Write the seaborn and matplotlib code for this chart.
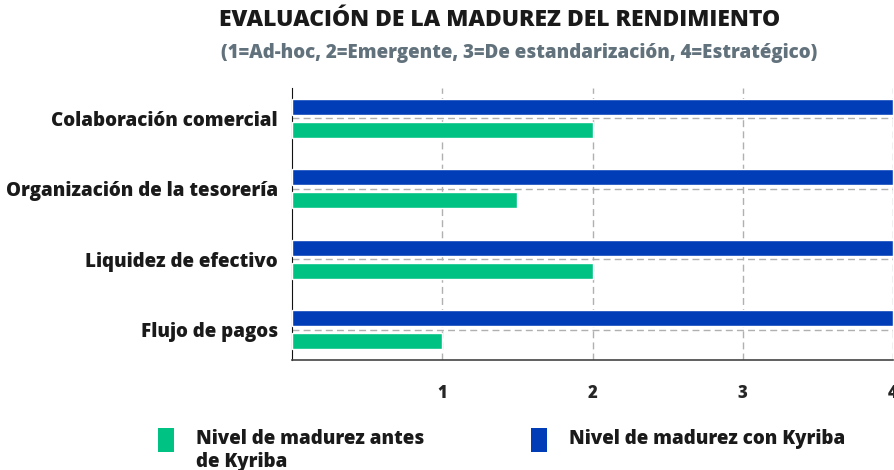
import pandas as pd
import seaborn as sns
import matplotlib.pyplot as plt
from matplotlib.patches import Patch

categorias = ['Colaboración comercial', 'Organización de la tesorería',
              'Liquidez de efectivo', 'Flujo de pagos']
antes_kyriba = [2, 1.5, 2, 1]
con_kyriba = [4, 4, 4, 4]
serie_antes = 'Nivel de madurez antes\nde Kyriba'
serie_con = 'Nivel de madurez con Kyriba'
x_ticks = [1, 2, 3, 4]

verde = '#00C282'
azul = '#023DB8'

df = pd.DataFrame({
    'categoria': categorias * 2,
    'nivel': con_kyriba + antes_kyriba,
    'serie': [serie_con] * 4 + [serie_antes] * 4,
})

sns.set_style('white')
plt.rcParams['font.family'] = ['Open Sans', 'DejaVu Sans']
peso = 800

fig = plt.figure(figsize=(8.94, 4.70), dpi=100)
ax = fig.add_axes([292 / 894, 1 - 360 / 470, 601 / 894, 272 / 470])

sns.barplot(data=df, y='categoria', x='nivel', hue='serie',
            hue_order=[serie_con, serie_antes],
            palette={serie_con: azul, serie_antes: verde},
            order=categorias, orient='h', width=0.65, gap=0.3,
            saturation=1, legend=False, ax=ax, zorder=3)

ax.set_xlim(0, 4)
ax.set_ylim(3.43, -0.43)
ax.set_xticks(x_ticks)
ax.set_xticklabels([str(t) for t in x_ticks], fontsize=12, fontweight=peso)
ax.tick_params(axis='x', length=12, width=1.2, color='#333333', pad=6)
ax.tick_params(axis='y', length=4, width=1, color='#222222', pad=6)
for lab in ax.get_yticklabels():
    lab.set_fontsize(13.5)
    lab.set_fontweight(peso)
    lab.set_color('#1a1a1a')
ax.set_xlabel('')
ax.set_ylabel('')

ax.grid(True, axis='both', linestyle=(0, (5, 3)), color='#b0b0b0', linewidth=1, zorder=0)
ax.set_axisbelow(True)
for s in ['top', 'right']:
    ax.spines[s].set_visible(False)
ax.spines['left'].set_color('#111111')
ax.spines['bottom'].set_color('#444444')
ax.spines['bottom'].set_linewidth(1.2)

fig.text(500 / 894, 1 - 20 / 470, 'EVALUACIÓN DE LA MADUREZ DEL RENDIMIENTO',
         ha='center', va='center', fontsize=16.5, fontweight=peso, color='#1a1a1a')
fig.text(519 / 894, 1 - 53 / 470,
         '(1=Ad-hoc, 2=Emergente, 3=De estandarización, 4=Estratégico)',
         ha='center', va='center', fontsize=13.5, fontweight=peso, color='#62727c')

# leyenda: cuadrados alineados con la primera línea del texto
handles = [Patch(facecolor=verde, edgecolor='none'),
           Patch(facecolor=azul, edgecolor='none')]
leg = fig.legend(handles, [serie_antes, serie_con + '\n '], loc='upper left',
                 bbox_to_anchor=(141 / 894, 1 - 412 / 470), ncol=2, frameon=False,
                 prop={'size': 13.5, 'weight': peso}, handlelength=0.85,
                 handleheight=1.23, handletextpad=1.2, columnspacing=5.67,
                 labelcolor='#1a1a1a', alignment='left')
for h in leg.legend_handles:
    h.set_y(h.get_y() + 6.8)
    h.set_height(h.get_height() + 3)

fig.savefig('out.png', dpi=100)
